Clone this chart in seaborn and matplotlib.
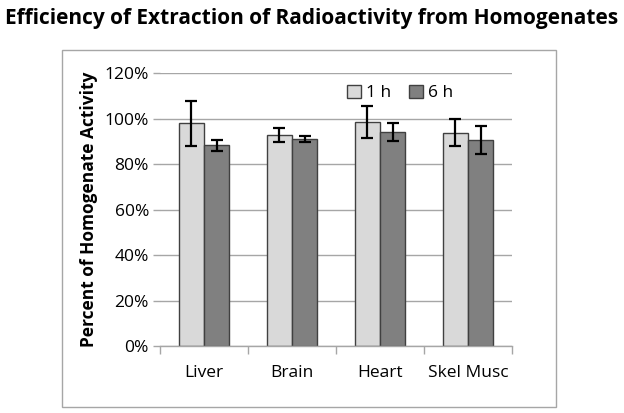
import pandas as pd
import numpy as np
import matplotlib
matplotlib.use("Agg")
import matplotlib.pyplot as plt
import matplotlib.ticker as mticker
from matplotlib.patches import Rectangle
import seaborn as sns

# ----------------------------------------------------------------------------
# data
# ----------------------------------------------------------------------------
tissues = ["Liver", "Brain", "Heart", "Skel Musc"]
times = ["1 h", "6 h"]
mean_1h = [98.0, 92.8, 98.4, 93.8]
mean_6h = [88.3, 90.9, 94.1, 90.6]
err_1h = [9.9, 3.2, 7.0, 5.8]
err_6h = [2.4, 1.2, 3.8, 6.3]
yticks = [0, 20, 40, 60, 80, 100, 120]

df = pd.DataFrame({
    "tissue": tissues * 2,
    "time": [times[0]] * 4 + [times[1]] * 4,
    "value": mean_1h + mean_6h,
    "err": err_1h + err_6h,
})

sns.set_theme(style="white")
plt.rcParams["font.family"] = ["Open Sans", "DejaVu Sans"]
plt.rcParams["text.color"] = "black"
plt.rcParams["xtick.labelcolor"] = "black"
plt.rcParams["ytick.labelcolor"] = "black"
plt.rcParams["axes.labelcolor"] = "black"

fig = plt.figure(figsize=(6.24, 4.13), dpi=100)
ax = fig.add_axes([0.2564, 0.1622, 0.5641, 0.6610])

# outer chart frame
fig.patches.append(Rectangle((62 / 624, 6 / 413), 494 / 624, 357 / 413,
                             transform=fig.transFigure, fill=False,
                             edgecolor="#A6A6A6", lw=1.0))

sns.barplot(data=df, x="tissue", y="value", hue="time", order=tissues,
            hue_order=times, palette=["#D9D9D9", "#808080"], width=0.57,
            edgecolor="#404040", linewidth=1.0, errorbar=None, ax=ax)

# error bars on top of each bar
for cont, t in zip(ax.containers, times):
    sub = df[df["time"] == t].set_index("tissue").loc[tissues]
    xs = [b.get_x() + b.get_width() / 2 for b in cont]
    ax.errorbar(xs, sub["value"], yerr=sub["err"], fmt="none",
                ecolor="black", elinewidth=1.6, capsize=4, capthick=1.6,
                zorder=5)

ax.set_ylim(0, 120)
ax.set_xlim(-0.5, len(tissues) - 0.5)
ax.set_yticks(yticks)
ax.yaxis.set_major_formatter(mticker.FuncFormatter(lambda v, p: f"{v:.0f}%"))
ax.grid(axis="y", color="#A6A6A6", lw=1.0)
ax.set_axisbelow(True)

for s in ["top", "right", "left"]:
    ax.spines[s].set_visible(False)
ax.spines["bottom"].set_color("#A6A6A6")
ax.spines["bottom"].set_linewidth(1.0)

ax.tick_params(axis="y", length=5, width=1.0, color="#A6A6A6", direction="out",
               labelsize=12.5, pad=3, left=True)
ax.tick_params(axis="x", which="major", length=0, labelsize=12.5, pad=14)
ax.set_xticks(np.arange(-0.5, len(tissues), 1.0), minor=True)
ax.tick_params(axis="x", which="minor", length=6, width=1.0, color="#A6A6A6",
               direction="out", bottom=True)

ax.set_xlabel("")
ax.set_ylabel("Percent of Homogenate Activity", fontsize=12.5, fontweight="bold",
              labelpad=5)

leg = ax.legend(loc="center", bbox_to_anchor=(0.682, 0.927), ncol=2,
                frameon=False, fontsize=12.5, handlelength=0.8, handleheight=0.8,
                handletextpad=0.3, columnspacing=1.0)

fig.text(0.5, 0.955, "Efficiency of Extraction of Radioactivity from Homogenates",
         ha="center", va="center", fontsize=15, fontweight="bold")

fig.savefig("out.png", dpi=100, facecolor="white")
plt.close()
